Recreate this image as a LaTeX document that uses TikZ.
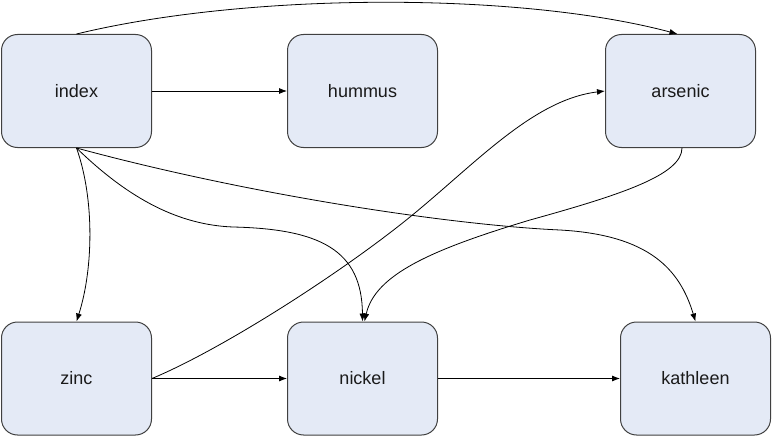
\documentclass[tikz,border=0pt]{standalone}
\usepackage{fontspec}
\setmainfont{Liberation Sans}
\usetikzlibrary{arrows.meta}
\definecolor{boxfill}{RGB}{228,234,246}
\definecolor{boxline}{RGB}{64,64,64}
\definecolor{txt}{RGB}{26,26,26}
\begin{document}
\begin{tikzpicture}[x=1pt,y=-1pt,
  box/.style={draw=boxline, fill=boxfill, line width=1pt, rounded corners=16pt,
    minimum width=150pt, minimum height=113pt, inner sep=0pt,
    font=\fontsize{18}{22}\selectfont, text=txt},
  edge/.style={draw=black, line width=0.8pt, -{Latex[length=8pt,width=6pt]}}]
\useasboundingbox (0,0) rectangle (772,436);
\node[box] (index) at (76.5,91) {index};
\node[box] (hummus) at (362.5,91) {hummus};
\node[box] (arsenic) at (680.5,91) {arsenic};
\node[box] (zinc) at (76.5,378.5) {zinc};
\node[box] (nickel) at (362.5,378.5) {nickel};
\node[box] (kathleen) at (695.5,378.5) {kathleen};

\draw[edge] (index.north) .. controls (250,-8) and (520,-8) .. ([xshift=-3pt]arsenic.north);
\draw[edge] (index.east) -- (hummus.west);
\draw[edge] (index.south) .. controls (95,200) and (93,270) .. (zinc.north);
\draw[edge] (index.south) .. controls (130,200) and (180,225) .. (233,227)
  .. controls (320,229) and (362,250) .. (nickel.north);
\draw[edge] (index.south) .. controls (250,195) and (450,225) .. (560,230)
  .. controls (650,235) and (680,270) .. (kathleen.north);
\draw[edge] (zinc.east) .. controls (220,350) and (330,280) .. (400,225)
  .. controls (470,170) and (530,100) .. (arsenic.west);
\draw[edge] ([xshift=1.5pt]arsenic.south) .. controls (682,175) and (620,195) .. (530,220)
  .. controls (430,250) and (375,275) .. ([xshift=2pt]nickel.north);
\draw[edge] (zinc.east) -- (nickel.west);
\draw[edge] (nickel.east) -- (kathleen.west);
\end{tikzpicture}
\end{document}
